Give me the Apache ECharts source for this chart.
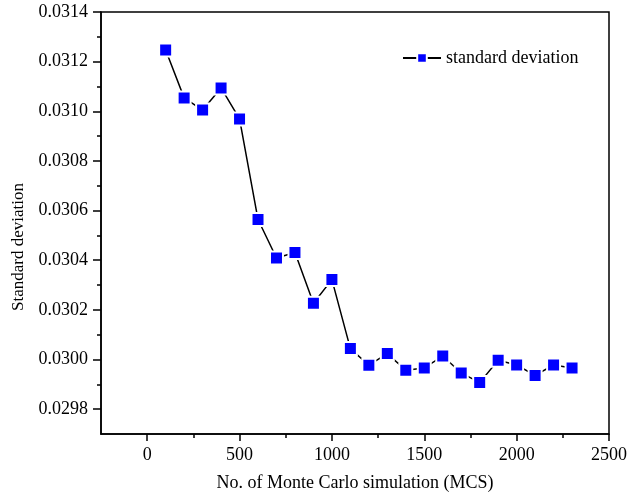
<!DOCTYPE html>
<html>
<head>
<meta charset="utf-8">
<script src="https://cdn.jsdelivr.net/npm/echarts@6/dist/echarts.min.js"></script>
<style>
  html, body { margin: 0; padding: 0; background: #fff; }
  #main { width: 642px; height: 496px; }
</style>
</head>
<body>
<div id="main"></div>
<script>
// 数据
var mcsRuns = [100, 200, 300, 400, 500, 600, 700, 800, 900, 1000, 1100, 1200,
               1300, 1400, 1500, 1600, 1700, 1800, 1900, 2000, 2100, 2200, 2300];
var stdDev = [0.031247, 0.031054, 0.031005, 0.031094, 0.030969, 0.030564, 0.030409,
              0.030431, 0.030227, 0.030322, 0.030044, 0.029977, 0.030024, 0.029957,
              0.029966, 0.030014, 0.029946, 0.029907, 0.029997, 0.029978, 0.029936,
              0.029978, 0.029966];
var xMajorTicks = [0, 500, 1000, 1500, 2000, 2500];
var xMinorTicks = [250, 750, 1250, 1750, 2250];
var yMajorTicks = [0.0298, 0.0300, 0.0302, 0.0304, 0.0306, 0.0308, 0.0310, 0.0312, 0.0314];
var yMinorTicks = [0.0299, 0.0301, 0.0303, 0.0305, 0.0307, 0.0309, 0.0311, 0.0313];

var myChart = echarts.init(document.getElementById('main'));
var font = 'Liberation Serif, Times New Roman, serif';

var points = [];
for (var i = 0; i < mcsRuns.length; i++) {
    points.push([mcsRuns[i], stdDev[i]]);
}

var option = {
    backgroundColor: '#fff',
    animation: false,
    grid: {
        left: 101, right: 33, top: 12, bottom: 62,
        outerBoundsMode: 'none',
        containLabel: false,
        show: true, borderColor: '#000', borderWidth: 1.5
    },
    legend: {
        data: ['standard deviation'],
        left: 397, top: 44,
        itemWidth: 38, itemHeight: 12, itemGap: 6,
        textStyle: { fontFamily: font, fontSize: 18, color: '#000' }
    },
    xAxis: [{
        type: 'value', min: -250, max: 2500,
        name: 'No. of Monte Carlo simulation (MCS)',
        nameLocation: 'middle', nameGap: 40,
        nameTextStyle: { fontFamily: font, fontSize: 18, color: '#000' },
        splitLine: { show: false },
        axisLine: { onZero: false, lineStyle: { color: '#000', width: 1.5 } },
        axisTick: { customValues: xMajorTicks, length: 7, lineStyle: { color: '#000', width: 1.5 } },
        axisLabel: {
            customValues: xMajorTicks, margin: 12,
            fontFamily: font, fontSize: 18, color: '#000',
            formatter: function (v) { return String(v); }
        }
    }, {
        type: 'value', min: -250, max: 2500, position: 'bottom',
        splitLine: { show: false },
        axisLine: { show: false, onZero: false },
        axisTick: { customValues: xMinorTicks, length: 4, lineStyle: { color: '#000', width: 1.5 } },
        axisLabel: { show: false }
    }],
    yAxis: [{
        type: 'value', min: 0.0297, max: 0.0314,
        name: 'Standard deviation',
        nameLocation: 'middle', nameGap: 74,
        nameTextStyle: { fontFamily: font, fontSize: 17, color: '#000', padding: [0, 48, 0, 0] },
        splitLine: { show: false },
        axisLine: { onZero: false, lineStyle: { color: '#000', width: 1.5 } },
        axisTick: { customValues: yMajorTicks, length: 8, lineStyle: { color: '#000', width: 1.5 } },
        axisLabel: {
            customValues: yMajorTicks, margin: 13,
            fontFamily: font, fontSize: 18, color: '#000',
            formatter: function (v) { return v.toFixed(4); }
        }
    }, {
        type: 'value', min: 0.0297, max: 0.0314, position: 'left',
        splitLine: { show: false },
        axisLine: { show: false, onZero: false },
        axisTick: { customValues: yMinorTicks, length: 4, lineStyle: { color: '#000', width: 1.5 } },
        axisLabel: { show: false }
    }],
    series: [{
        name: 'standard deviation',
        type: 'line',
        data: points,
        symbol: 'rect',
        symbolSize: 13,
        lineStyle: { color: '#000', width: 1.5 },
        itemStyle: { color: '#0000ff', borderColor: '#fff', borderWidth: 2 }
    }]
};

myChart.setOption(option);
</script>
</body>
</html>
